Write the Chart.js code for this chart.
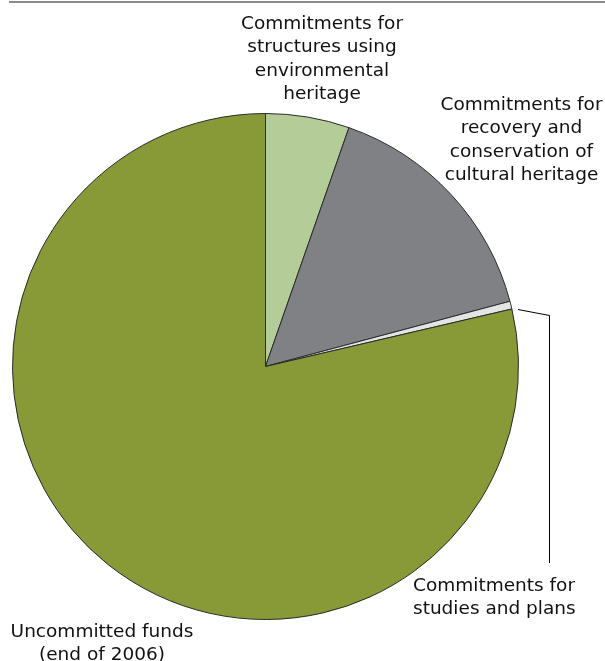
<html>
  <head>
    <script src="https://cdn.jsdelivr.net/npm/chart.js"></script>
    <style>
      body { margin: 0; background: #fff; }
    </style>
  </head>

  <body>
    <canvas id="myChart" width="605" height="661"></canvas>
    <script>
      // shares of the funds, in percent
      const categories = [
        "Commitments for structures using environmental heritage",
        "Commitments for recovery and conservation of cultural heritage",
        "Commitments for studies and plans",
        "Uncommitted funds (end of 2006)"
      ]
      const shares = [5.35, 15.5, 0.5, 78.65]
      const colors = ["#b4cc98", "#808185", "#e4e4e4", "#889937"]

      // label text split into lines, as printed on the chart
      const labelLines = [
        ["Commitments for", "structures using", "environmental", "heritage"],
        ["Commitments for", "recovery and", "conservation of", "cultural heritage"],
        ["Commitments for", "studies and plans"],
        ["Uncommitted funds", "(end of 2006)"]
      ]

      const labelPlugin = {
        id: "labels",
        afterDraw(chart) {
          const ctx = chart.ctx
          ctx.save()
          // rule along the top
          ctx.strokeStyle = "#8a8a8a"
          ctx.lineWidth = 2
          ctx.beginPath()
          ctx.moveTo(9, 2)
          ctx.lineTo(605, 2)
          ctx.stroke()

          // leader for the thin slice
          ctx.strokeStyle = "#000"
          ctx.lineWidth = 1
          ctx.beginPath()
          ctx.moveTo(518, 309.5)
          ctx.lineTo(549.5, 315.5)
          ctx.lineTo(549.5, 563)
          ctx.stroke()

          ctx.font = "18.5px 'DejaVu Sans', Verdana, sans-serif"
          ctx.fillStyle = "#111"
          ctx.textBaseline = "alphabetic"
          const spots = [
            { x: 322, y: 29, align: "center" },
            { x: 521.5, y: 110, align: "center" },
            { x: 413, y: 591, align: "left" },
            { x: 102, y: 637, align: "center" }
          ]
          labelLines.forEach(function (lines, i) {
            ctx.textAlign = spots[i].align
            lines.forEach(function (t, j) {
              ctx.fillText(t, spots[i].x, spots[i].y + j * 23.3)
            })
          })
          ctx.restore()
        }
      }

      const config = {
        type: "pie",
        data: {
          labels: categories,
          datasets: [
            {
              data: shares,
              backgroundColor: colors,
              borderColor: "#2a2a2a",
              borderWidth: 1
            }
          ]
        },
        options: {
          responsive: false,
          animation: false,
          layout: { padding: { left: 12, right: 86, top: 113, bottom: 41 } },
          plugins: {
            legend: { display: false },
            tooltip: { enabled: false }
          }
        },
        plugins: [labelPlugin]
      }
      const myChart = new Chart(document.getElementById("myChart"), config)
    </script>
  </body>
</html>
